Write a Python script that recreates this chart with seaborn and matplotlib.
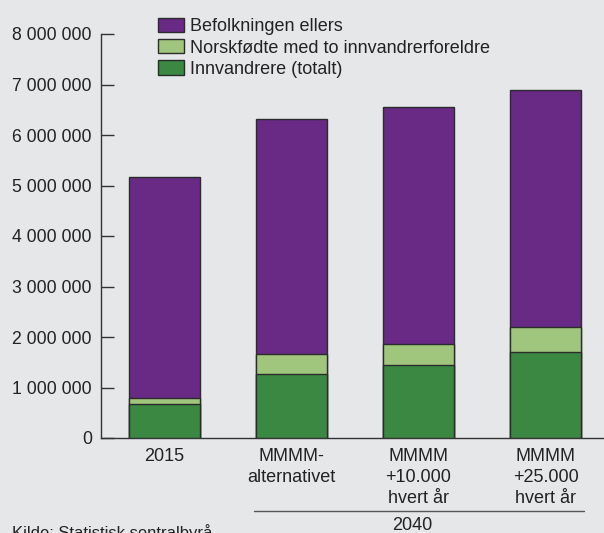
import numpy as np
import pandas as pd
import seaborn as sns
import matplotlib.pyplot as plt
from matplotlib.patches import Patch
from matplotlib.ticker import FuncFormatter

categories = ["2015", "MMMM-\nalternativet", "MMMM\n+10.000\nhvert år", "MMMM\n+25.000\nhvert år"]
innvandrere = [670000, 1270000, 1440000, 1700000]
norskfodte = [130000, 390000, 430000, 500000]
ellers = [4370000, 4660000, 4680000, 4700000]
series_names = ["Befolkningen ellers", "Norskfødte med to innvandrerforeldre", "Innvandrere (totalt)"]
group_label = "2040"
source = "Kilde: Statistisk sentralbyrå"

bg = "#E6E7E9"
c_purple = "#682A84"
c_light = "#A0C67E"
c_green = "#3A8841"
edge = "#2B2B2B"

sns.set_theme(style="white")
plt.rcParams["font.family"] = ["Liberation Sans", "DejaVu Sans"]

df = pd.DataFrame({
    "cat": categories,
    "inn": innvandrere,
    "nor": norskfodte,
    "ell": ellers,
})
df["lvl2"] = df["inn"] + df["nor"]
df["lvl3"] = df["lvl2"] + df["ell"]

fig = plt.figure(figsize=(6.04, 5.33), dpi=100, facecolor=bg)
ax = fig.add_axes([101/604, 1-438/533, 1-101/604, (438-34)/533])
ax.set_facecolor(bg)

w = 0.56
sns.barplot(data=df, x="cat", y="lvl3", color=c_purple, edgecolor=edge, linewidth=1.0, width=w, saturation=1, ax=ax, zorder=2)
sns.barplot(data=df, x="cat", y="lvl2", color=c_light, edgecolor=edge, linewidth=1.0, width=w, saturation=1, ax=ax, zorder=3)
sns.barplot(data=df, x="cat", y="inn", color=c_green, edgecolor=edge, linewidth=1.0, width=w, saturation=1, ax=ax, zorder=4)

ax.set_xlim(-0.5, 3.46)
ax.set_ylim(0, 8000000)
ax.set_yticks(np.arange(0, 8000001, 1000000))
ax.yaxis.set_major_formatter(FuncFormatter(lambda v, p: f"{int(v):,}".replace(",", " ")))
ax.set_xlabel("")
ax.set_ylabel("")

for s in ["top", "right"]:
    ax.spines[s].set_visible(False)
for s in ["left", "bottom"]:
    ax.spines[s].set_color("#333333")
    ax.spines[s].set_linewidth(1.0)

ax.tick_params(axis="y", left=True, direction="in", length=9, width=1.0, color="#333333",
               labelsize=12.7, pad=6.5, labelcolor="#222222")
ax.tick_params(axis="x", bottom=False, length=0, labelsize=13, pad=7, labelcolor="#222222")
for lab in ax.get_xticklabels():
    lab.set_linespacing(1.32)

handles = [Patch(facecolor=c, edgecolor=edge, linewidth=1.0) for c in [c_purple, c_light, c_green]]
leg = fig.legend(handles, series_names, loc="upper left", bbox_to_anchor=(145/604, 1-5/533),
                 frameon=False, fontsize=13, handlelength=1.45, handleheight=0.85,
                 handletextpad=0.33, labelspacing=0.22, borderpad=0.2)
for t in leg.get_texts():
    t.set_color("#222222")

fig.add_artist(plt.Line2D([254/604, 584/604], [1-511/533, 1-511/533], color="#555555", linewidth=1.0))
fig.text(412/604, 1-526/533, group_label, ha="center", va="center", fontsize=13, color="#222222")
fig.text(12/604, 1-533/533, source, ha="left", va="center", fontsize=12, color="#222222")

fig.savefig("out.png", dpi=100, facecolor=bg)
